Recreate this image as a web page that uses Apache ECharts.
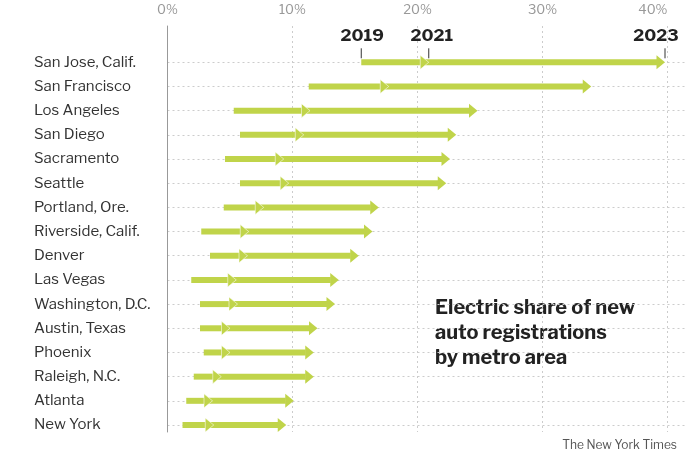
<!DOCTYPE html>
<html>
<head>
<meta charset="utf-8">
<script src="https://cdn.jsdelivr.net/npm/echarts@6/dist/echarts.min.js"></script>
<style>
html,body{margin:0;padding:0;background:#fff;}
#chart{width:690px;height:466px;}
</style>
</head>
<body>
<div id="chart"></div>
<script>
var cities = ['San Jose, Calif.', 'San Francisco', 'Los Angeles', 'San Diego', 'Sacramento', 'Seattle', 'Portland, Ore.', 'Riverside, Calif.', 'Denver', 'Las Vegas', 'Washington, D.C.', 'Austin, Texas', 'Phoenix', 'Raleigh, N.C.', 'Atlanta', 'New York'];
var share2019 = [15.5, 11.3, 5.3, 5.8, 4.6, 5.8, 4.5, 2.7, 3.4, 1.9, 2.6, 2.6, 2.9, 2.1, 1.5, 1.2];
var share2021 = [20.9, 17.7, 11.4, 10.9, 9.3, 9.7, 7.7, 6.5, 6.4, 5.5, 5.6, 5.0, 5.0, 4.3, 3.6, 3.7];
var share2023 = [39.8, 33.9, 24.8, 23.1, 22.6, 22.3, 16.9, 16.4, 15.3, 13.7, 13.4, 12.0, 11.7, 11.7, 10.1, 9.5];
var yearLabels = ['2019', '2021', '2023'];
var xTicks = [0, 10, 20, 30, 40];
var titleText = 'Electric share of new\nauto registrations\nby metro area';
var sourceText = 'The New York Times';

var FONT = "'Libre Franklin', Roboto, 'Noto Sans', sans-serif";
var GREEN = '#c0d44a';

var data = cities.map(function (c, i) { return [i, share2019[i], share2021[i], share2023[i]]; });

function arrow(x0, x1, y, withWhite) {
  var headL = 8.5, headH = 7, shaft = 6;
  var els = [];
  els.push({
    type: 'rect',
    shape: { x: x0, y: y - shaft / 2, width: Math.max(0, x1 - headL - x0 + 0.5), height: shaft },
    style: { fill: GREEN }
  });
  els.push({
    type: 'polygon',
    shape: { points: [[x1 - headL, y - headH], [x1, y], [x1 - headL, y + headH]] },
    style: { fill: GREEN, stroke: withWhite ? 'rgba(255,255,255,0.9)' : null, lineWidth: withWhite ? 0.6 : 0 }
  });
  return els;
}

function renderItem(params, api) {
  var idx = api.value(0);
  var p19 = api.coord([api.value(1), idx]);
  var p21 = api.coord([api.value(2), idx]);
  var p23 = api.coord([api.value(3), idx]);
  var y = p19[1];
  var children = [];
  children = children.concat(arrow(p21[0] - 4, p23[0], y, false));
  children = children.concat(arrow(p19[0], p21[0], y, true));
  if (idx === 0) {
    var pts = [p19[0], p21[0], p23[0]];
    var offs = [1, 3, -9];
    for (var k = 0; k < 3; k++) {
      children.push({
        type: 'line',
        shape: { x1: pts[k], y1: y - 14, x2: pts[k], y2: y - 4 },
        style: { stroke: '#333', lineWidth: 1 }
      });
      children.push({
        type: 'text',
        style: {
          text: yearLabels[k], x: pts[k] + offs[k], y: y - 26,
          textAlign: 'center', textVerticalAlign: 'middle',
          font: 'bold 17px ' + FONT, fill: '#222'
        }
      });
    }
  }
  return { type: 'group', children: children };
}

var chart = echarts.init(document.getElementById('chart'));
chart.setOption({
  animation: false,
  backgroundColor: '#fff',
  grid: [
    { left: 167.5, right: 5, top: 62.3, bottom: 41 },
    { left: 167.5, right: 22.5, top: 26, bottom: 34 }
  ],
  xAxis: [
    { gridIndex: 0, type: 'value', min: 0, max: 41.4, show: false },
    {
      gridIndex: 1, type: 'value', position: 'top', min: 0, max: 40, interval: 10,
      axisLine: { show: false }, axisTick: { show: false },
      axisLabel: { formatter: '{value}%', color: '#999', fontSize: 13, fontFamily: FONT, margin: 9, alignMaxLabel: 'right' },
      splitLine: { show: true, lineStyle: { color: '#ccc', type: [2, 3], width: 1 } }
    }
  ],
  yAxis: [
    {
      gridIndex: 0, type: 'category', data: cities, inverse: true, boundaryGap: false,
      axisLine: { show: false }, axisTick: { show: false },
      axisLabel: { align: 'left', margin: 133.5, color: '#333', fontSize: 15, fontFamily: FONT },
      splitLine: { show: true, lineStyle: { color: '#ccc', type: [2, 3], width: 1 } }
    },
    {
      gridIndex: 1, type: 'value', min: 0, max: 1, axisLabel: { show: false }, axisTick: { show: false },
      splitLine: { show: false },
      axisLine: { show: true, onZero: false, lineStyle: { color: '#999', width: 1 } }
    }
  ],
  series: [{
    type: 'custom',
    xAxisIndex: 0, yAxisIndex: 0,
    renderItem: renderItem,
    encode: { x: [1, 2, 3], y: 0 },
    data: data,
    z: 10
  }],
  graphic: [
    {
      type: 'text', left: 435, top: 296,
      style: { text: titleText, font: 'bold 20px ' + FONT, fill: '#222', lineHeight: 25 }
    },
    {
      type: 'text', right: 13, top: 439,
      style: { text: sourceText, font: '12px ' + FONT, fill: '#555' }
    }
  ]
});
</script>
</body>
</html>
